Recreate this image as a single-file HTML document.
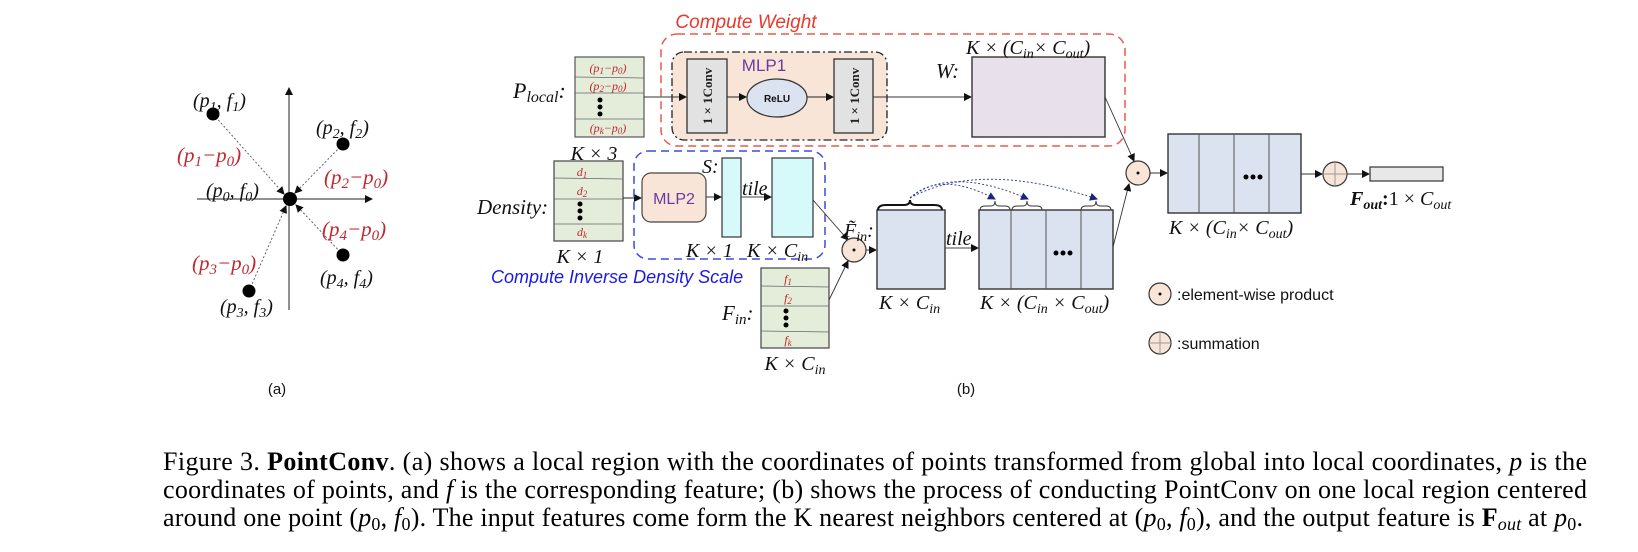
<!DOCTYPE html>
<html><head><meta charset="utf-8"><style>
html,body{margin:0;padding:0;background:#fff;}
svg{display:block;}
.m{font-family:"Liberation Serif",serif;font-style:italic;}
.s{font-family:"Liberation Sans",sans-serif;}
</style></head><body>
<svg width="1638" height="552" viewBox="0 0 1638 552" xmlns="http://www.w3.org/2000/svg">
<defs>
<marker id="ah" markerWidth="8" markerHeight="8" refX="7" refY="4" orient="auto" markerUnits="userSpaceOnUse"><path d="M0,0 L8,4 L0,8 z" fill="#111"/></marker>
<marker id="ahb" markerWidth="8" markerHeight="8" refX="7" refY="4" orient="auto" markerUnits="userSpaceOnUse"><path d="M0,0 L8,4 L0,8 z" fill="#1a237e"/></marker>
</defs>

<!-- (a) -->
<g>
<line x1="197" y1="199" x2="372" y2="199" stroke="#222" stroke-width="1" marker-end="url(#ah)"/>
<line x1="289" y1="310" x2="289" y2="88" stroke="#222" stroke-width="1" marker-end="url(#ah)"/>
<g stroke="#555" stroke-width="0.9" stroke-dasharray="2,2" fill="none">
<line x1="213" y1="114" x2="284" y2="194" marker-end="url(#ah)"/>
<line x1="343" y1="144" x2="295" y2="193" marker-end="url(#ah)"/>
<line x1="343" y1="255" x2="296" y2="205" marker-end="url(#ah)"/>
<line x1="249" y1="291" x2="286" y2="206" marker-end="url(#ah)"/>
</g>
<circle cx="290" cy="199" r="7" fill="#000"/>
<circle cx="213" cy="114" r="6.5" fill="#000"/>
<circle cx="343" cy="144" r="6.5" fill="#000"/>
<circle cx="343" cy="255" r="6.5" fill="#000"/>
<circle cx="249" cy="291" r="6.5" fill="#000"/>
<g class="m" font-size="20" fill="#111">
<text x="193" y="107">(p<tspan font-size="14" dy="4">1</tspan><tspan dy="-4">, f</tspan><tspan font-size="14" dy="4">1</tspan><tspan dy="-4">)</tspan></text>
<text x="316" y="134">(p<tspan font-size="14" dy="4">2</tspan><tspan dy="-4">, f</tspan><tspan font-size="14" dy="4">2</tspan><tspan dy="-4">)</tspan></text>
<text x="206" y="197">(p<tspan font-size="14" dy="4">0</tspan><tspan dy="-4">, f</tspan><tspan font-size="14" dy="4">0</tspan><tspan dy="-4">)</tspan></text>
<text x="320" y="284">(p<tspan font-size="14" dy="4">4</tspan><tspan dy="-4">, f</tspan><tspan font-size="14" dy="4">4</tspan><tspan dy="-4">)</tspan></text>
<text x="220" y="313">(p<tspan font-size="14" dy="4">3</tspan><tspan dy="-4">, f</tspan><tspan font-size="14" dy="4">3</tspan><tspan dy="-4">)</tspan></text>
</g>
<g class="m" font-size="21" fill="#c0282d">
<text x="177" y="162">(p<tspan font-size="15" dy="4">1</tspan><tspan dy="-4">−p</tspan><tspan font-size="15" dy="4">0</tspan><tspan dy="-4">)</tspan></text>
<text x="324" y="184">(p<tspan font-size="15" dy="4">2</tspan><tspan dy="-4">−p</tspan><tspan font-size="15" dy="4">0</tspan><tspan dy="-4">)</tspan></text>
<text x="322" y="236">(p<tspan font-size="15" dy="4">4</tspan><tspan dy="-4">−p</tspan><tspan font-size="15" dy="4">0</tspan><tspan dy="-4">)</tspan></text>
<text x="192" y="270">(p<tspan font-size="15" dy="4">3</tspan><tspan dy="-4">−p</tspan><tspan font-size="15" dy="4">0</tspan><tspan dy="-4">)</tspan></text>
</g>
<text x="277" y="394" class="s" font-size="15" text-anchor="middle" fill="#111">(a)</text>
</g>

<!-- (b) -->
<text x="746" y="28" class="s" font-style="italic" font-size="19" fill="#e8392c" text-anchor="middle">Compute Weight</text>
<rect x="661" y="34" width="464" height="112" rx="16" fill="none" stroke="#ea5a4c" stroke-width="1.5" stroke-dasharray="8,5"/>
<rect x="672" y="52" width="215" height="88" rx="12" fill="#f8e5d8" stroke="#222" stroke-width="1.3" stroke-dasharray="8,3,2,3"/>
<rect x="687" y="59" width="40" height="74" fill="#e2e2e2" stroke="#333" stroke-width="1.3"/>
<rect x="834" y="59" width="39" height="74" fill="#e2e2e2" stroke="#333" stroke-width="1.3"/>
<text transform="translate(712,96) rotate(-90)" font-family="Liberation Serif,serif" font-weight="bold" font-size="13" text-anchor="middle" fill="#222">1 × 1Conv</text>
<text transform="translate(859,96) rotate(-90)" font-family="Liberation Serif,serif" font-weight="bold" font-size="13" text-anchor="middle" fill="#222">1 × 1Conv</text>
<ellipse cx="777" cy="98" rx="30" ry="19" fill="#dce3f0" stroke="#333" stroke-width="1.2"/>
<text x="777" y="102" class="s" font-weight="bold" font-size="10" text-anchor="middle" fill="#111">ReLU</text>
<text x="764" y="71" class="s" font-size="17" text-anchor="middle" fill="#6b3aa0">MLP1</text>
<line x1="727" y1="97" x2="746" y2="97" stroke="#222" marker-end="url(#ah)"/>
<line x1="807" y1="97" x2="833" y2="97" stroke="#222" marker-end="url(#ah)"/>
<line x1="873" y1="97" x2="971" y2="97" stroke="#333" marker-end="url(#ah)"/>
<text x="936" y="78" class="m" font-size="21" fill="#111">W:</text>
<rect x="972" y="57" width="133" height="80" fill="#e8e0eb" stroke="#333" stroke-width="1.4"/>
<text x="966" y="54" class="m" font-size="20" fill="#111">K × (C<tspan font-size="14" dy="4">in</tspan><tspan dy="-4">× C</tspan><tspan font-size="14" dy="4">out</tspan><tspan dy="-4">)</tspan></text>

<!-- Plocal table -->
<text x="513" y="98" class="m" font-size="22" fill="#111">P<tspan font-size="16" dy="4">local</tspan><tspan dy="-4">:</tspan></text>
<rect x="575" y="57" width="69" height="80" fill="#e3edda" stroke="#555" stroke-width="1.2"/>
<g stroke="#666" stroke-width="0.8"><line x1="575" y1="77" x2="644" y2="78"/><line x1="575" y1="93" x2="644" y2="93"/><line x1="575" y1="119" x2="644" y2="119"/></g>
<g class="m" font-size="12" fill="#c0282d" text-anchor="middle">
<text x="608" y="72">(p<tspan font-size="9" dy="2">1</tspan><tspan dy="-2">−p</tspan><tspan font-size="9" dy="2">0</tspan><tspan dy="-2">)</tspan></text>
<text x="608" y="90">(p<tspan font-size="9" dy="2">2</tspan><tspan dy="-2">−p</tspan><tspan font-size="9" dy="2">0</tspan><tspan dy="-2">)</tspan></text>
<text x="608" y="132">(p<tspan font-size="9" dy="2">k</tspan><tspan dy="-2">−p</tspan><tspan font-size="9" dy="2">0</tspan><tspan dy="-2">)</tspan></text>
</g>
<g fill="#000"><circle cx="600" cy="100" r="2.5"/><circle cx="600" cy="107" r="2.5"/><circle cx="600" cy="114" r="2.5"/></g>
<line x1="644" y1="97" x2="686" y2="97" stroke="#333" marker-end="url(#ah)"/>
<text x="594" y="160" class="m" font-size="20" fill="#111" text-anchor="middle">K × 3</text>

<!-- Density -->
<text x="477" y="214" class="m" font-size="21" fill="#111">Density:</text>
<rect x="554" y="161" width="69" height="80" fill="#e3edda" stroke="#444" stroke-width="1.2"/>
<g stroke="#666" stroke-width="0.8"><line x1="554" y1="178" x2="623" y2="179"/><line x1="554" y1="199" x2="623" y2="199"/><line x1="554" y1="224" x2="623" y2="224"/></g>
<g class="m" font-size="12" fill="#c0282d" text-anchor="middle">
<text x="582" y="176">d<tspan font-size="9" dy="2">1</tspan></text>
<text x="582" y="195">d<tspan font-size="9" dy="2">2</tspan></text>
<text x="582" y="236">d<tspan font-size="9" dy="2">k</tspan></text>
</g>
<g fill="#000"><circle cx="580" cy="204" r="2.5"/><circle cx="580" cy="211" r="2.5"/><circle cx="580" cy="218" r="2.5"/></g>
<text x="580" y="263" class="m" font-size="20" fill="#111" text-anchor="middle">K × 1</text>
<line x1="623" y1="198" x2="641" y2="198" stroke="#222" marker-end="url(#ah)"/>

<!-- inverse density box -->
<rect x="634" y="151" width="191" height="108" rx="14" fill="none" stroke="#3a4be0" stroke-width="1.5" stroke-dasharray="8,5"/>
<rect x="642" y="173" width="64" height="49" rx="9" fill="#f8e5d8" stroke="#444" stroke-width="1.2"/>
<text x="674" y="204" class="s" font-size="16" text-anchor="middle" fill="#6b3aa0">MLP2</text>
<line x1="706" y1="197" x2="721" y2="197" stroke="#333" marker-end="url(#ah)"/>
<text x="702" y="173" class="m" font-size="20" fill="#111">S:</text>
<rect x="722" y="158" width="19" height="79" fill="#d6fafa" stroke="#333" stroke-width="1.2"/>
<text x="742" y="195" class="m" font-size="20" fill="#111">tile</text>
<line x1="741" y1="197" x2="771" y2="197" stroke="#444" marker-end="url(#ah)"/>
<rect x="772" y="158" width="41" height="79" fill="#d6fafa" stroke="#333" stroke-width="1.2"/>
<text x="686" y="257" class="m" font-size="20" fill="#111">K × 1</text>
<text x="747" y="257" class="m" font-size="20" fill="#111">K × C<tspan font-size="14" dy="4">in</tspan></text>
<text x="491" y="283" class="s" font-style="italic" font-size="18" fill="#1a1ae6">Compute Inverse Density Scale</text>

<!-- Fin -->
<text x="722" y="320" class="m" font-size="21" fill="#111">F<tspan font-size="15" dy="4">in</tspan><tspan dy="-4">:</tspan></text>
<rect x="761" y="268" width="68" height="80" fill="#e3edda" stroke="#444" stroke-width="1.2"/>
<g stroke="#666" stroke-width="0.8"><line x1="761" y1="286" x2="829" y2="287"/><line x1="761" y1="306" x2="829" y2="306"/><line x1="761" y1="331" x2="829" y2="332"/></g>
<g class="m" font-size="12" fill="#c0282d" text-anchor="middle">
<text x="788" y="283">f<tspan font-size="9" dy="2">1</tspan></text>
<text x="788" y="302">f<tspan font-size="9" dy="2">2</tspan></text>
<text x="788" y="344">f<tspan font-size="9" dy="2">k</tspan></text>
</g>
<g fill="#000"><circle cx="786" cy="311" r="2.5"/><circle cx="786" cy="318" r="2.5"/><circle cx="786" cy="325" r="2.5"/></g>
<text x="795" y="370" class="m" font-size="20" fill="#111" text-anchor="middle">K × C<tspan font-size="14" dy="4">in</tspan></text>

<!-- first product -->
<line x1="813" y1="200" x2="848" y2="240" stroke="#333" stroke-width="0.9" marker-end="url(#ah)"/>
<line x1="829" y1="300" x2="848" y2="261" stroke="#333" stroke-width="0.9" marker-end="url(#ah)"/>
<circle cx="854" cy="250" r="12" fill="#f8e5d8" stroke="#333" stroke-width="1.2"/>
<circle cx="854" cy="250" r="1.5" fill="#111"/>
<line x1="866" y1="250" x2="876" y2="250" stroke="#333" marker-end="url(#ah)"/>
<text x="844" y="237" class="m" font-size="20" fill="#111">F̃<tspan font-size="14" dy="4">in</tspan><tspan dy="-4">:</tspan></text>
<rect x="877" y="210" width="68" height="79" fill="#dce3f0" stroke="#333" stroke-width="1.4"/>
<path d="M878,210 q0,-5 8,-5 h18 q6,0 6,-5 q0,5 6,5 h18 q8,0 8,5" fill="none" stroke="#111" stroke-width="2"/>
<text x="879" y="309" class="m" font-size="20" fill="#111">K × C<tspan font-size="14" dy="4">in</tspan></text>
<text x="946" y="245" class="m" font-size="20" fill="#111">tile</text>
<line x1="945" y1="248" x2="978" y2="248" stroke="#444" marker-end="url(#ah)"/>
<rect x="979" y="210" width="134" height="79" fill="#dce3f0" stroke="#333" stroke-width="1.4"/>
<g stroke="#555" stroke-width="1"><line x1="1011" y1="210" x2="1011" y2="289"/><line x1="1046" y1="210" x2="1046" y2="289"/><line x1="1081" y1="210" x2="1081" y2="289"/></g>
<g fill="#000"><circle cx="1056" cy="253" r="2.5"/><circle cx="1063" cy="253" r="2.5"/><circle cx="1070" cy="253" r="2.5"/></g>
<g fill="none" stroke="#333" stroke-width="1">
<path d="M980,210 q0,-4 5,-4 h6 q4,0 4,-5 q0,5 4,5 h6 q5,0 5,4"/>
<path d="M1012,210 q0,-4 5,-4 h6 q4,0 4,-5 q0,5 4,5 h6 q5,0 5,4"/>
<path d="M1081,210 q0,-4 5,-4 h6 q4,0 4,-5 q0,5 4,5 h6 q5,0 5,4"/>
</g>
<g fill="none" stroke="#2a3590" stroke-width="0.9" stroke-dasharray="2,2">
<path d="M910,198 Q940,170 995,199" marker-end="url(#ahb)"/>
<path d="M910,198 Q950,165 1028,199" marker-end="url(#ahb)"/>
<path d="M910,198 Q980,160 1097,199" marker-end="url(#ahb)"/>
</g>
<text x="980" y="309" class="m" font-size="20" fill="#111">K × (C<tspan font-size="14" dy="4">in</tspan><tspan dy="-4"> × C</tspan><tspan font-size="14" dy="4">out</tspan><tspan dy="-4">)</tspan></text>

<!-- second product -->
<line x1="1105" y1="97" x2="1134" y2="161" stroke="#333" stroke-width="0.9" marker-end="url(#ah)"/>
<line x1="1113" y1="247" x2="1129" y2="184" stroke="#333" stroke-width="0.9" marker-end="url(#ah)"/>
<circle cx="1138" cy="173" r="12" fill="#f8e5d8" stroke="#333" stroke-width="1.2"/>
<circle cx="1138" cy="173" r="1.5" fill="#111"/>
<line x1="1150" y1="173" x2="1167" y2="173" stroke="#333" marker-end="url(#ah)"/>
<rect x="1168" y="134" width="133" height="79" fill="#dce3f0" stroke="#333" stroke-width="1.4"/>
<g stroke="#555" stroke-width="1"><line x1="1199" y1="134" x2="1199" y2="213"/><line x1="1234" y1="134" x2="1234" y2="213"/><line x1="1269" y1="134" x2="1269" y2="213"/></g>
<g fill="#000"><circle cx="1246" cy="177" r="2.5"/><circle cx="1253" cy="177" r="2.5"/><circle cx="1260" cy="177" r="2.5"/></g>
<text x="1169" y="234" class="m" font-size="20" fill="#111">K × (C<tspan font-size="14" dy="4">in</tspan><tspan dy="-4">× C</tspan><tspan font-size="14" dy="4">out</tspan><tspan dy="-4">)</tspan></text>
<line x1="1301" y1="174" x2="1322" y2="174" stroke="#333" marker-end="url(#ah)"/>
<circle cx="1335" cy="174" r="12" fill="#f8e5d8" stroke="#333" stroke-width="1.2"/>
<g stroke="#999" stroke-width="1"><line x1="1323" y1="174" x2="1347" y2="174"/><line x1="1335" y1="162" x2="1335" y2="186"/></g>
<line x1="1347" y1="174" x2="1369" y2="174" stroke="#333" marker-end="url(#ah)"/>
<rect x="1370" y="167" width="73" height="14" fill="#e8e8e8" stroke="#333" stroke-width="1.2"/>
<text x="1350" y="205" class="m" font-size="20" fill="#111"><tspan font-weight="bold">F</tspan><tspan font-weight="bold" font-size="14" dy="4">out</tspan><tspan dy="-4" font-style="normal" font-weight="bold">:</tspan><tspan font-style="normal">1 × </tspan>C<tspan font-size="14" dy="4">out</tspan></text>

<!-- legend -->
<circle cx="1160" cy="294" r="11" fill="#f8e5d8" stroke="#333" stroke-width="1.2"/>
<circle cx="1160" cy="294" r="1.5" fill="#111"/>
<text x="1177" y="300" class="s" font-size="16" fill="#111">:element-wise product</text>
<circle cx="1160" cy="343" r="11" fill="#f8e5d8" stroke="#333" stroke-width="1.2"/>
<g stroke="#999" stroke-width="1"><line x1="1149" y1="343" x2="1171" y2="343"/><line x1="1160" y1="332" x2="1160" y2="354"/></g>
<text x="1177" y="349" class="s" font-size="16" fill="#111">:summation</text>
<text x="966" y="394" class="s" font-size="15" text-anchor="middle" fill="#111">(b)</text>

<!-- caption -->
<g font-family="Liberation Serif,serif" font-size="26" fill="#000">
<text x="163" y="470" textLength="1424" lengthAdjust="spacing">Figure 3. <tspan font-weight="bold">PointConv</tspan>.  (a) shows a local region with the coordinates of points transformed from global into local coordinates, <tspan font-style="italic">p</tspan> is the</text>
<text x="163" y="498" textLength="1424" lengthAdjust="spacing">coordinates of points, and <tspan font-style="italic">f</tspan> is the corresponding feature; (b) shows the process of conducting PointConv on one local region centered</text>
<text x="163" y="526" textLength="1420" lengthAdjust="spacing">around one point (<tspan font-style="italic">p</tspan><tspan font-size="18" dy="4">0</tspan><tspan dy="-4">, </tspan><tspan font-style="italic">f</tspan><tspan font-size="18" dy="4">0</tspan><tspan dy="-4">). The input features come form the K nearest neighbors centered at (</tspan><tspan font-style="italic">p</tspan><tspan font-size="18" dy="4">0</tspan><tspan dy="-4">, </tspan><tspan font-style="italic">f</tspan><tspan font-size="18" dy="4">0</tspan><tspan dy="-4">), and the output feature is </tspan><tspan font-weight="bold">F</tspan><tspan font-size="18" font-style="italic" dy="4">out</tspan><tspan dy="-4"> at </tspan><tspan font-style="italic">p</tspan><tspan font-size="18" dy="4">0</tspan><tspan dy="-4">.</tspan></text>
</g>
</svg>
</body></html>
